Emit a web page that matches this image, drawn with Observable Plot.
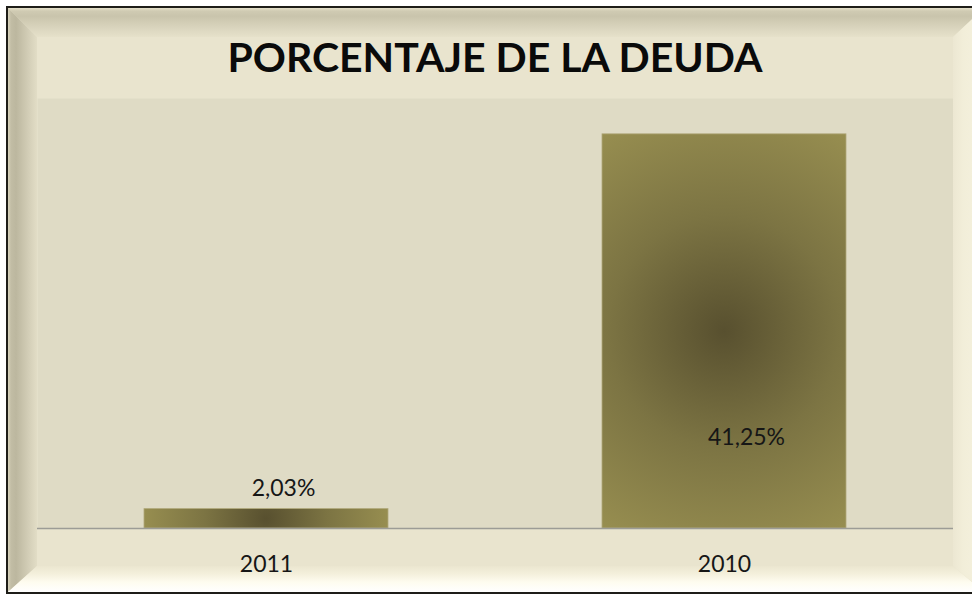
<!DOCTYPE html>
<html>
<head>
<meta charset="utf-8">
<script src="https://cdn.jsdelivr.net/npm/d3@7"></script>
<script src="https://cdn.jsdelivr.net/npm/@observablehq/plot@0.6"></script>
<style>
  html, body { margin: 0; padding: 0; background: #ffffff; }
  body { width: 972px; height: 595px; overflow: hidden; position: relative; font-family: Lato, "Open Sans", sans-serif; }
  #frame { position: absolute; left: 6px; top: 6px; width: 980px; height: 588px; box-sizing: border-box; border: 2px solid #1e1d18; background: #e9e4ce; }
  .bev { position: absolute; }
  #bevTop { left: 8px; top: 8px; width: 976px; height: 29px;
    clip-path: polygon(0 0, 100% 0, calc(100% - 31px) 100%, 29px 100%);
    background: linear-gradient(to bottom, #e4dfc8 0px, #d0cbb3 3px, #c9c4ac 8px, #dad5be 20px, #e6e1ca 29px); }
  #bevLeft { left: 8px; top: 8px; width: 29px; height: 584px;
    clip-path: polygon(0 0, 100% 29px, 100% calc(100% - 26px), 0 100%);
    background: linear-gradient(to right, #d8d3bc 0px, #c2bda5 3px, #bcb79f 8px, #d2cdb6 20px, #e2ddc6 29px); }
  #bevBottom { left: 8px; top: 566px; width: 976px; height: 26px;
    clip-path: polygon(29px 0, calc(100% - 31px) 0, 100% 100%, 0 100%);
    background: linear-gradient(to bottom, #ebe6d0 0px, #f4f0dc 8px, #fefcef 16px, #ffffff 26px); }
  #bevRight { left: 953px; top: 8px; width: 31px; height: 584px;
    clip-path: polygon(0 29px, 100% 0, 100% 100%, 0 calc(100% - 26px));
    background: linear-gradient(to right, #ece7d2 0px, #f2eed9 10px, #f5f1de 31px); }
  #title { position: absolute; left: 37px; width: 916px; top: 36px; text-align: center;
    font-family: Lato, "Open Sans", sans-serif; font-weight: 700; font-size: 41px; line-height: 1; color: #0a0a0a; }
  #chart { position: absolute; left: 37px; top: 98px; }
</style>
</head>
<body>
<div id="frame"></div>
<div class="bev" id="bevTop"></div>
<div class="bev" id="bevLeft"></div>
<div class="bev" id="bevBottom"></div>
<div class="bev" id="bevRight"></div>
<div id="title">PORCENTAJE DE LA DEUDA</div>
<div id="chart"></div>
<script>
// ---- data ----
const years = ["2011", "2010"];
const debtPercent = [2.03, 41.25];
const yDomain = [0, 45];

const data = years.map((y, i) => ({year: y, value: debtPercent[i]}));

const es = d3.formatLocale({decimal: ",", thousands: ".", grouping: [3], currency: ["", " €"]});
const fmt = v => es.format(".2f")(v) + "%";

const chart = Plot.plot({
  width: 916,
  height: 480,
  marginLeft: 0,
  marginRight: 0,
  marginTop: 0,
  marginBottom: 50,
  style: {background: "transparent", fontFamily: "Lato, 'Open Sans', sans-serif", color: "#161616"},
  x: {domain: years, paddingInner: 0.467, paddingOuter: 0.2335, label: null},
  y: {domain: yDomain, axis: null},
  marks: [
    Plot.frame({fill: "#dfdbc5", stroke: "none"}),
    Plot.barY(data, {x: "year", y: "value", fill: "#978e50", stroke: "#b0a87a", strokeWidth: 0.8, className: "bars"}),
    Plot.ruleY([0], {stroke: "#9c9c96", strokeWidth: 1.5}),
    Plot.axisX({tickSize: 0, tickPadding: 27, fontSize: 23, label: null}),
    Plot.text(data.filter(d => d.year === "2011"), {x: "year", y: "value", text: d => fmt(d.value), dy: -20, dx: 17, fontSize: 23, fill: "#161616"}),
    Plot.text(data.filter(d => d.year === "2010"), {x: "year", y: "value", text: d => fmt(d.value), dy: 303, dx: 22, fontSize: 23, fill: "#161616"})
  ]
});

// centre-out shading on each bar: circle through the bar's corners
const svg = d3.select(chart);
const defs = svg.insert("defs", ":first-child");
svg.selectAll("g.bars rect").each(function(d, i) {
  const r = d3.select(this);
  const x = +r.attr("x"), y = +r.attr("y"), w = +r.attr("width"), h = +r.attr("height");
  const id = "barGrad" + i;
  const g = defs.append("radialGradient").attr("id", id).attr("gradientUnits", "userSpaceOnUse")
    .attr("cx", x + w / 2).attr("cy", y + h / 2).attr("r", Math.sqrt(w * w + h * h) / 2);
  g.append("stop").attr("offset", 0).attr("stop-color", "#58502f");
  g.append("stop").attr("offset", 0.5).attr("stop-color", "#7c7443");
  g.append("stop").attr("offset", 1).attr("stop-color", "#978e50");
  r.attr("fill", `url(#${id})`);
});

document.getElementById("chart").appendChild(chart);
</script>
</body>
</html>
